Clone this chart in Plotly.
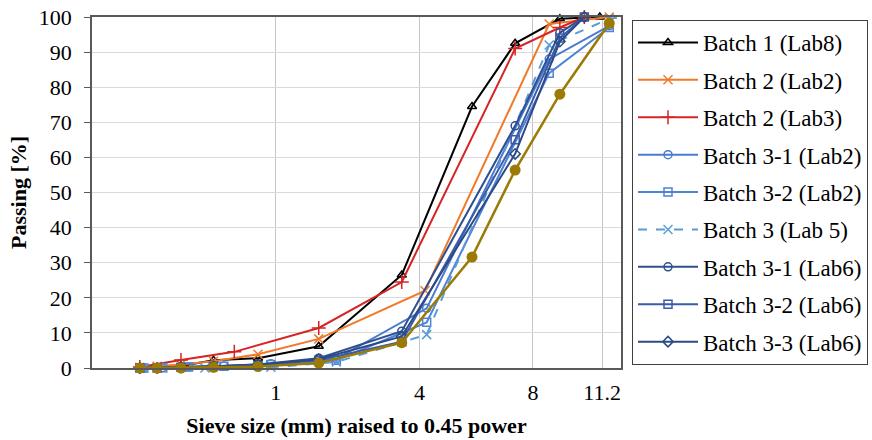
import numpy as np
import plotly.graph_objects as go

# ---------------- data (sieve sizes in mm, passing in %) ----------------
sieves_en = [0.063, 0.125, 0.25, 0.5, 1, 2, 4, 6.3, 8, 10, 12]
batch1_lab8 = [0, 0.2, 0.6, 2.2, 2.8, 6.2, 26.5, 74.5, 92.5, 99.5, 100]

sieves_b2_lab2 = [0.063, 0.125, 0.25, 0.5, 1, 2, 4.7, 9.5, 12.5]
batch2_lab2 = [0.2, 0.5, 1.0, 1.9, 3.9, 8.3, 22, 98, 100]

sieves_b2_lab3 = [0.063, 0.25, 0.71, 2, 4, 8, 10, 11.2]
batch2_lab3 = [0.3, 2.3, 4.6, 11.4, 24.5, 91, 97, 100]

sieves_lab2 = [0.075, 0.15, 0.3, 0.6, 1.18, 2.36, 4.75, 9.5, 12.5]
batch31_lab2 = [0, 0.1, 0.3, 0.6, 1.2, 2.6, 17, 88, 97.5]
batch32_lab2 = [0, 0.1, 0.3, 0.5, 1.0, 2.2, 13, 84, 97]

sieves_lab5 = [0.075, 0.15, 0.425, 1.18, 2.36, 4.75, 9.5, 12.5, 13.2]
batch3_lab5 = [0, 0, 0, 0.2, 1.7, 9.5, 92, 99.5, 100]

sieves_lab6 = [0.063, 0.125, 0.25, 0.5, 1, 2, 4, 8, 10, 11.2]
batch31_lab6 = [0, 0, 0.2, 0.5, 1.0, 2.8, 10.5, 69, 95.5, 100]
batch32_lab6 = [0, 0, 0.2, 0.4, 0.8, 2.2, 7.5, 65, 94, 100]
batch33_lab6 = [0, 0, 0.2, 0.5, 0.9, 2.5, 9.0, 61, 93, 100]

sieves_gold = [0.063, 0.125, 0.25, 0.5, 1, 2, 4, 6.3, 8, 10, 12.5]
batch_gold = [0, 0, 0, 0.2, 0.4, 1.4, 7.2, 31.6, 56.4, 78, 98.2]

tick_sizes = [1, 4, 8, 11.2]
tick_labels = ["1", "4", "8", "11.2"]
y_ticks = list(range(0, 101, 10))

POWER = 0.45
GRID_SHIFT = 0.107  # labelled grid lines sit slightly right of the data scale

def tx(sizes):
    return [s ** POWER for s in sizes]

series = [
    ("Batch 1 (Lab8)", sieves_en, batch1_lab8, "#000000", "triangle-up-open", "solid", 8),
    ("Batch 2 (Lab2)", sieves_b2_lab2, batch2_lab2, "#F07A2A", "x-thin-open", "solid", 9),
    ("Batch 2 (Lab3)", sieves_b2_lab3, batch2_lab3, "#D62424", "cross-thin-open", "solid", 10),
    ("Batch 3-1 (Lab2)", sieves_lab2, batch31_lab2, "#4A7BD0", "circle-open", "solid", 8),
    ("Batch 3-2 (Lab2)", sieves_lab2, batch32_lab2, "#4F83D6", "square-open", "solid", 8),
    ("Batch 3 (Lab 5)", sieves_lab5, batch3_lab5, "#5B9BD5", "x-thin-open", "dash", 9),
    ("Batch 3-1 (Lab6)", sieves_lab6, batch31_lab6, "#2E4F91", "circle-open", "solid", 8),
    ("Batch 3-2 (Lab6)", sieves_lab6, batch32_lab6, "#3A5BA8", "square-open", "solid", 8),
    ("Batch 3-3 (Lab6)", sieves_lab6, batch33_lab6, "#2B4A86", "diamond-open", "solid", 8),
]

fig = go.Figure()
for name, sx, sy, col, sym, dash, msz in series:
    fig.add_trace(go.Scatter(
        x=tx(sx), y=sy, name=name, mode="lines+markers", legendgroup=name,
        line=dict(color=col, width=2, dash=dash),
        marker=dict(symbol=sym, size=msz, color=col, line=dict(color=col, width=1.5)),
        cliponaxis=False,
    ))

fig.add_trace(go.Scatter(
    x=tx(sieves_gold), y=batch_gold, name="Batch 3 (gold)", mode="lines+markers",
    showlegend=False,
    line=dict(color="#9B7A05", width=2.5),
    marker=dict(symbol="circle", size=11, color="#9B7A05"),
    cliponaxis=False,
))

serif = "Liberation Serif"
fig.update_layout(
    width=872, height=440,
    margin=dict(l=92, r=251, t=17, b=72, autoexpand=False),
    paper_bgcolor="white", plot_bgcolor="white",
    font=dict(family=serif, size=22, color="#000000"),
    showlegend=True,
    legend=dict(
        x=1.0208, xanchor="left", y=0.9915, yanchor="top",
        bordercolor="#404040", borderwidth=1,
        font=dict(family=serif, size=23, color="#000000"),
        tracegroupgap=4.5, itemwidth=60,
    ),
    xaxis=dict(
        range=[0, 529 / 166], automargin=False,
        tickvals=[s ** POWER + GRID_SHIFT for s in tick_sizes],
        ticktext=tick_labels,
        showgrid=True, gridcolor="#C4C4C4", gridwidth=1,
        showline=True, linecolor="#595959", linewidth=1.5, mirror=True,
        ticks="", zeroline=False, ticklabelstandoff=4,
        tickfont=dict(family=serif, size=22),
        title=dict(text="<b>Sieve size (mm) raised to 0.45 power</b>",
                   font=dict(family=serif, size=22), standoff=13),
    ),
    yaxis=dict(
        range=[0, 100], tickvals=y_ticks, automargin=False,
        showgrid=True, gridcolor="#DADADA", gridwidth=1,
        showline=True, linecolor="#595959", linewidth=1.5, mirror=True,
        ticks="outside", ticklen=6, tickcolor="#595959",
        zeroline=False, ticklabelstandoff=8,
        tickfont=dict(family=serif, size=22),
        title=dict(text="<b>Passing [%]</b>", font=dict(family=serif, size=22), standoff=6),
    ),
)

fig.write_html("out.html", config={"displayModeBar": False},
               post_script="document.body.style.margin='0px';")
